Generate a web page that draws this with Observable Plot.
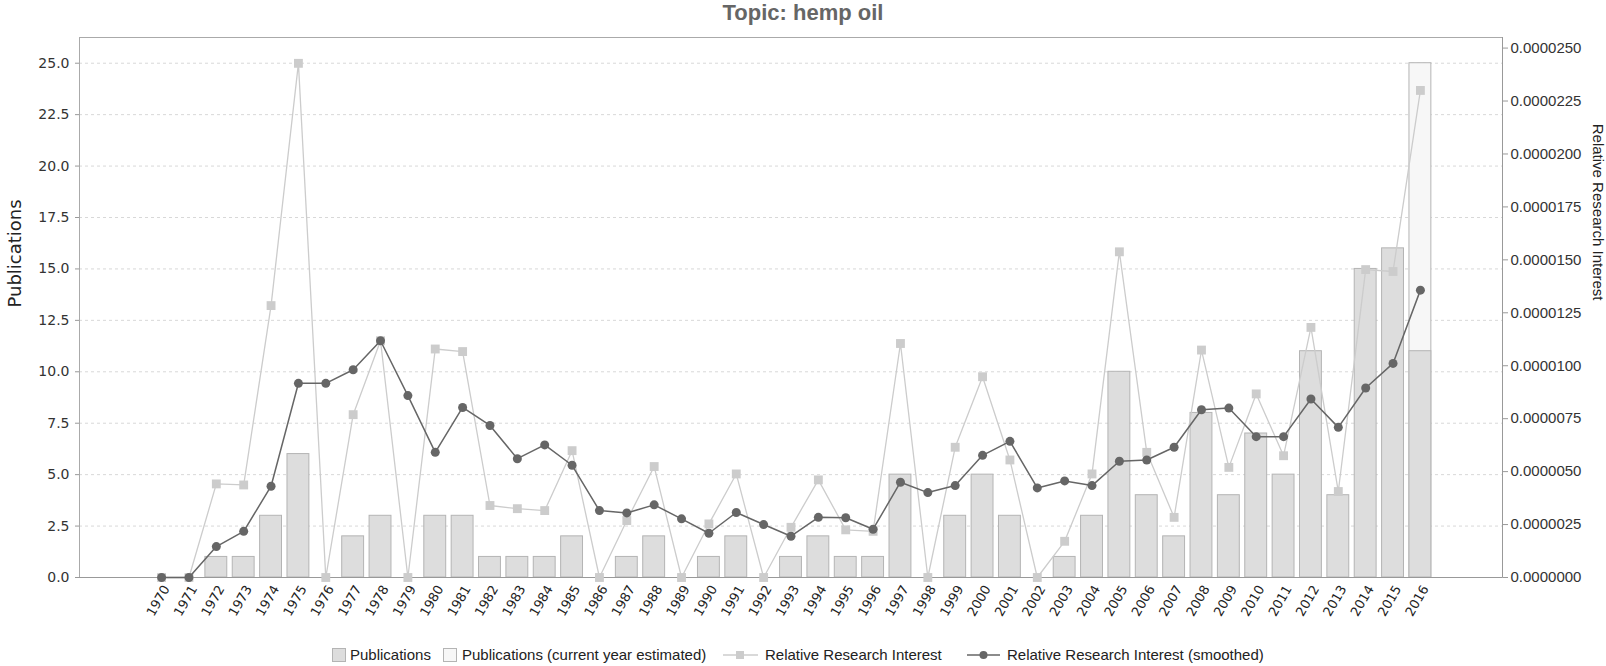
<!DOCTYPE html>
<html><head><meta charset="utf-8">
<script src="https://cdn.jsdelivr.net/npm/d3@7"></script>
<script src="https://cdn.jsdelivr.net/npm/@observablehq/plot@0.6"></script>
<style>
body{margin:0;background:#fff;width:1606px;overflow:hidden;}
#title{height:30px;line-height:28px;text-align:center;font:bold 22px "Liberation Sans",Arial,sans-serif;color:#666;}
#chart svg{display:block;}
#legend{height:26px;}
#legend svg{display:block;}
</style></head>
<body>
<div id="title">Topic: hemp oil</div>
<div id="chart"></div>
<div id="legend"></div>
<script>
const years = [1970,1971,1972,1973,1974,1975,1976,1977,1978,1979,1980,1981,1982,1983,1984,1985,1986,1987,1988,1989,
  1990,1991,1992,1993,1994,1995,1996,1997,1998,1999,2000,2001,2002,2003,2004,2005,2006,2007,2008,2009,
  2010,2011,2012,2013,2014,2015,2016];
const publications = [0,0,1,1,3,6,0,2,3,0,3,3,1,1,1,2,0,1,2,0,
  1,2,0,1,2,1,1,5,0,3,5,3,0,1,3,10,4,2,8,4,
  7,5,11,4,15,16,11];
const estimatedYears = [2016];
const estimatedPublications = [25];
const relativeInterest = [0,0,4.42e-6,4.37e-6,12.84e-6,24.28e-6,0,7.69e-6,11.18e-6,0,10.79e-6,10.67e-6,3.40e-6,3.25e-6,3.16e-6,5.99e-6,0,2.69e-6,5.24e-6,0,
  2.53e-6,4.89e-6,0,2.37e-6,4.61e-6,2.25e-6,2.18e-6,11.05e-6,0,6.15e-6,9.48e-6,5.55e-6,0,1.71e-6,4.89e-6,15.38e-6,5.91e-6,2.84e-6,10.74e-6,5.20e-6,
  8.67e-6,5.75e-6,11.81e-6,4.06e-6,14.54e-6,14.45e-6,23.00e-6];
const relativeInterestSmoothed = [0,0,1.46e-6,2.18e-6,4.31e-6,9.17e-6,9.17e-6,9.81e-6,11.18e-6,8.59e-6,5.91e-6,8.03e-6,7.18e-6,5.61e-6,6.26e-6,5.30e-6,3.16e-6,3.05e-6,3.43e-6,2.77e-6,
  2.09e-6,3.07e-6,2.50e-6,1.95e-6,2.84e-6,2.82e-6,2.28e-6,4.50e-6,4.01e-6,4.34e-6,5.77e-6,6.43e-6,4.23e-6,4.56e-6,4.34e-6,5.49e-6,5.55e-6,6.15e-6,7.92e-6,8.00e-6,
  6.65e-6,6.65e-6,8.43e-6,7.09e-6,8.95e-6,10.11e-6,13.57e-6];
const leftTicks = [0,2.5,5,7.5,10,12.5,15,17.5,20,22.5,25];
const rightTicks = [0,0.0000025,0.000005,0.0000075,0.00001,0.0000125,0.000015,0.0000175,0.00002,0.0000225,0.000025];

const leftMax = 26.25, rightMax = 0.0000255;
const k = leftMax / rightMax;

const pubData = years.map((y, i) => ({year: y, value: publications[i]}));
const estData = estimatedYears.map((y, i) => ({year: y, value: estimatedPublications[i]}));
const rriData = years.map((y, i) => ({year: y, value: relativeInterest[i]}));
const smData = years.map((y, i) => ({year: y, value: relativeInterestSmoothed[i]}));

const sansL = "Liberation Sans, Arial, sans-serif";
const sansD = "DejaVu Sans, sans-serif";

const chart = Plot.plot({
  width: 1606, height: 610,
  marginLeft: 79, marginRight: 104, marginTop: 7, marginBottom: 63,
  x: {type: "linear", domain: [1967, 2019], axis: null},
  y: {domain: [0, leftMax], axis: null},
  style: {background: "#fff", color: "#333"},
  marks: [
    Plot.ruleY(leftTicks.filter(d => d > 0), {stroke: "#d8d8d8", strokeDasharray: "3,3"}),
    Plot.rectY(estData, {x1: d => d.year - 0.4, x2: d => d.year + 0.4, y: "value", fill: "#f7f7f7", stroke: "#b4b4b4"}),
    Plot.rectY(pubData.filter(d => d.value > 0), {x1: d => d.year - 0.4, x2: d => d.year + 0.4, y: "value", fill: "#dddddd", stroke: "#b4b4b4"}),
    Plot.frame({stroke: "#aaa"}),
    Plot.ruleY([0], {stroke: "#999"}),
    Plot.ruleX([2019], {stroke: "#999"}),
    Plot.line(rriData, {x: "year", y: d => d.value * k, stroke: "#cccccc", strokeWidth: 1.3}),
    Plot.dot(rriData, {x: "year", y: d => d.value * k, symbol: "square", r: 5, fill: "#cccccc"}),
    Plot.line(smData, {x: "year", y: d => d.value * k, stroke: "#666", strokeWidth: 1.5}),
    Plot.dot(smData, {x: "year", y: d => d.value * k, r: 4.5, fill: "#666"}),
    Plot.axisY({anchor: "left", ticks: leftTicks, tickFormat: d => d.toFixed(1), tickSize: 4, tickPadding: 6, label: null, fontSize: 14, fontFamily: sansD, stroke: "#999", fill: "#333"}),
    Plot.axisY({anchor: "right", ticks: rightTicks.map(d => d * k), tickFormat: d => (d / k).toFixed(7), tickSize: 5, tickPadding: 3, label: null, fontSize: 15, fontFamily: sansL, stroke: "#999", fill: "#333"}),
    Plot.axisX({ticks: years, tickFormat: d => String(d), tickRotate: -60, tickSize: 0, tickPadding: 9, dx: 5, label: null, fontSize: 13, fontFamily: sansD, fill: "#222"}),
    Plot.text(["Publications"], {frameAnchor: "left", rotate: -90, dx: -64, fontSize: 18, fontFamily: sansD, fill: "#222"}),
    Plot.text(["Relative Research Interest"], {frameAnchor: "right", rotate: 90, dx: 95, dy: -7, fontSize: 15, fontFamily: sansL, fill: "#222"})
  ]
});
document.getElementById("chart").appendChild(chart);

// legend
const lg = d3.select("#legend").append("svg").attr("width", 1606).attr("height", 26)
  .style("font-family", sansL).style("font-size", "15px");
lg.append("rect").attr("x", 332.5).attr("y", 8.5).attr("width", 13).attr("height", 13).attr("fill", "#ddd").attr("stroke", "#b4b4b4");
lg.append("text").attr("x", 350).attr("y", 20).attr("fill", "#222").text("Publications");
lg.append("rect").attr("x", 443.5).attr("y", 8.5).attr("width", 13).attr("height", 13).attr("fill", "#f7f7f7").attr("stroke", "#b4b4b4");
lg.append("text").attr("x", 462).attr("y", 20).attr("fill", "#222").text("Publications (current year estimated)");
lg.append("line").attr("x1", 723).attr("x2", 758).attr("y1", 15).attr("y2", 15).attr("stroke", "#ccc").attr("stroke-width", 1.3);
lg.append("rect").attr("x", 736).attr("y", 11).attr("width", 8).attr("height", 8).attr("fill", "#ccc");
lg.append("text").attr("x", 765).attr("y", 20).attr("fill", "#222").text("Relative Research Interest");
lg.append("line").attr("x1", 967).attr("x2", 1000).attr("y1", 15).attr("y2", 15).attr("stroke", "#666").attr("stroke-width", 1.5);
lg.append("circle").attr("cx", 983.5).attr("cy", 15).attr("r", 4).attr("fill", "#666");
lg.append("text").attr("x", 1007).attr("y", 20).attr("fill", "#222").text("Relative Research Interest (smoothed)");
</script>
</body></html>
